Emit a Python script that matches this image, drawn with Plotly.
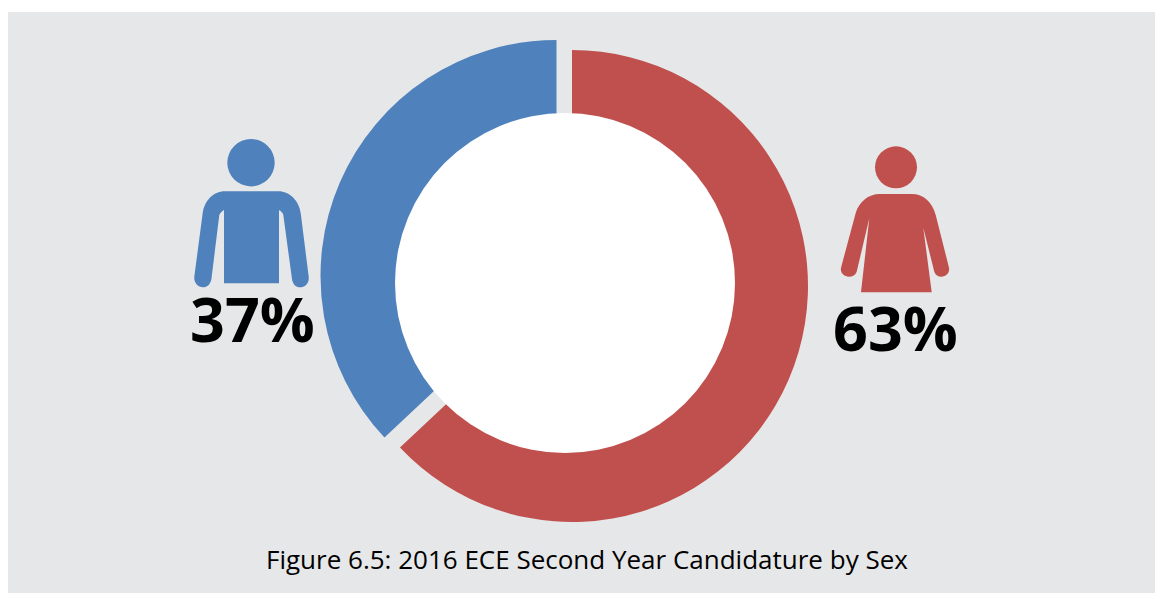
import plotly.graph_objects as go

# Candidature shares
categories = ["Female", "Male"]
shares = [63, 37]
share_labels = ["63%", "37%"]
caption = "Figure 6.5: 2016 ECE Second Year Candidature by Sex"

W, H = 1155, 593
RED, BLUE, PANEL = "#C0504D", "#4F81BD", "#E6E7E8"
CLEAR = "rgba(0,0,0,0)"


def fx(x):
    return x / W


def fy(y):
    return 1 - y / H


def path(cmds):
    """Build an SVG path in paper coordinates from pixel-space commands."""
    parts = []
    for cmd in cmds:
        op, nums = cmd[0], cmd[1:]
        pts = [f"{fx(nums[i]):.5f},{fy(nums[i + 1]):.5f}" for i in range(0, len(nums), 2)]
        parts.append(op + " ".join(pts))
    return " ".join(parts) + " Z"


def circle(cx, cy, r, color):
    return dict(type="circle", xref="paper", yref="paper", x0=fx(cx - r), x1=fx(cx + r),
                y0=fy(cy + r), y1=fy(cy - r), fillcolor=color, line_width=0, layer="above")


def ring(colors, cx, cy, r):
    """One pie per slice, so each can sit on its own centre."""
    return go.Pie(labels=categories, values=shares, sort=False, direction="clockwise", rotation=0,
                  marker=dict(colors=colors, line=dict(width=0)), textinfo="none", hoverinfo="label+percent",
                  domain=dict(x=[fx(cx - r), fx(cx + r)], y=[fy(cy + r), fy(cy - r)]), showlegend=False)


male_body = [
    ("M", 225, 191.3), ("L", 278.3, 191.3), ("C", 290, 191.3, 299, 201, 300.7, 213),
    ("L", 308.7, 276.7), ("C", 309.5, 283, 305, 287.3, 300, 287.3), ("C", 295, 287.3, 292, 283, 291.7, 276.7),
    ("L", 283.3, 215), ("C", 283, 213, 281, 211, 279, 210), ("L", 279, 283.3), ("L", 224, 283.3), ("L", 224, 210),
    ("C", 222, 211, 220, 213, 219.3, 215), ("L", 211.7, 276.7), ("C", 211.4, 283, 208, 287.3, 203, 287.3),
    ("C", 198, 287.3, 193.7, 283, 194.3, 276.7), ("L", 202.7, 213), ("C", 204.5, 201, 213, 191.3, 225, 191.3),
]

female_body = [
    ("M", 880, 194), ("L", 911.7, 194), ("C", 924, 194, 932, 202, 935.7, 215),
    ("L", 949, 267.7), ("C", 950, 273, 946, 276.7, 941.5, 276.7), ("C", 938, 276.7, 935.5, 275, 934.3, 271.7),
    ("L", 923.3, 227.7), ("L", 931.7, 292.3), ("L", 861, 292.3), ("L", 869.3, 218.3), ("L", 856.7, 271.7),
    ("C", 855.5, 275, 852.5, 276.7, 849, 276.7), ("C", 844, 276.7, 840, 273, 841, 267.7),
    ("L", 855.7, 213), ("C", 859, 202, 868, 194, 880, 194),
]

fig = go.Figure([
    ring([RED, CLEAR], 572, 286, 236),
    ring([CLEAR, BLUE], 556.5, 276, 236),
])

shapes = [
    dict(type="rect", xref="paper", yref="paper", x0=fx(8), x1=1, y0=0, y1=fy(12),
         fillcolor=PANEL, line_width=0, layer="below"),
    circle(565, 283, 170, "white"),
    circle(251, 162.7, 23.7, BLUE),
    circle(896, 167.3, 21, RED),
    dict(type="path", xref="paper", yref="paper", path=path(male_body), fillcolor=BLUE, line_width=0, layer="above"),
    dict(type="path", xref="paper", yref="paper", path=path(female_body), fillcolor=RED, line_width=0, layer="above"),
]


def label(text, x, y, size, bold=False):
    return dict(text=f"<b>{text}</b>" if bold else text, xref="paper", yref="paper", x=fx(x), y=fy(y),
                xanchor="center", yanchor="middle", showarrow=False,
                font=dict(family="Open Sans", size=size, color="black"))


fig.update_layout(
    width=W, height=H, margin=dict(l=0, r=0, t=0, b=0),
    paper_bgcolor="white", plot_bgcolor="white", shapes=shapes,
    annotations=[
        label(share_labels[1], 252, 318, 61, True),
        label(share_labels[0], 895, 327, 61, True),
        label(caption, 587, 559, 26),
    ],
)

fig.write_html("out.html", config=dict(displayModeBar=False))
